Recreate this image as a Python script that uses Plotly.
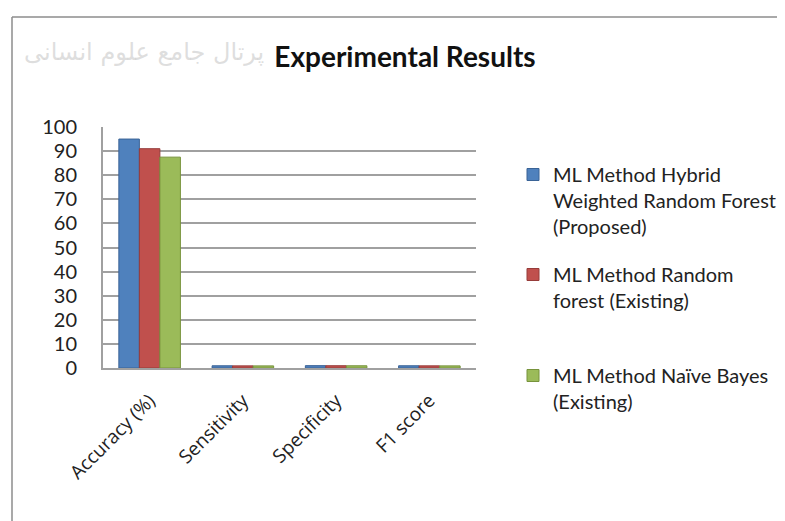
import plotly.graph_objects as go

categories = ["Accuracy (%)", "Sensitivity", "Specificity", "F1 score"]
series_names = [
    "ML Method Hybrid<br>Weighted Random Forest<br>(Proposed)",
    "ML Method Random<br>forest (Existing)",
    "ML Method Naïve Bayes<br>(Existing)",
]
hybrid_wrf = [95, 0.92, 0.97, 0.93]
random_forest = [91, 0.89, 0.94, 0.90]
naive_bayes = [87.5, 0.87, 0.92, 0.88]
colors = ["#4F81BD", "#C0504D", "#9BBB59"]
edge_colors = ["#3A6396", "#963C3A", "#77933C"]
y_ticks = [0, 10, 20, 30, 40, 50, 60, 70, 80, 90, 100]

# the page body adds an 8px margin, so the figure is drawn 8px smaller
OFF = 8
W, H = 785 - OFF, 521 - OFF
FONT = "Lato"

ML, MR, MT, MB = 103 - OFF, 309, 127 - OFF, 521 - 368
PW, PH = W - ML - MR, H - MT - MB


def px_x(p):
    return (p - OFF - ML) / PW


def px_y(p):
    return 1 - (p - OFF - MT) / PH


fig = go.Figure()
legend_ids = ["legend", "legend2", "legend3"]
for name, vals, col, ecol, lg in zip(series_names, [hybrid_wrf, random_forest, naive_bayes],
                                     colors, edge_colors, legend_ids):
    fig.add_trace(go.Bar(
        x=categories, y=vals, name=name,
        marker=dict(color=col, line=dict(color=ecol, width=1)),
        legend=lg,
    ))

legend_common = dict(
    xref="container", yref="container", xanchor="left", yanchor="top",
    font=dict(family=FONT, size=20, color="#222222"),
    bgcolor="rgba(0,0,0,0)", valign="top", itemwidth=30,
)
legend_tops = [155, 255, 356]
LEG_X = 513

fig.update_layout(
    width=W, height=H,
    paper_bgcolor="white", plot_bgcolor="white",
    margin=dict(l=ML, r=MR, t=MT, b=MB),
    barmode="group", bargap=0.34, bargroupgap=0,
    title=dict(text="<b>Experimental Results</b>", x=(405 - OFF) / W, xanchor="center",
               y=1 - (57 - OFF) / H, yanchor="middle",
               font=dict(family=FONT, size=28, color="#111111")),
    showlegend=True,
    legend=dict(x=(LEG_X - OFF) / W, y=1 - (legend_tops[0] - OFF) / H, **legend_common),
    legend2=dict(x=(LEG_X - OFF) / W, y=1 - (legend_tops[1] - OFF) / H, **legend_common),
    legend3=dict(x=(LEG_X - OFF) / W, y=1 - (legend_tops[2] - OFF) / H, **legend_common),
    xaxis=dict(
        tickangle=-45, tickfont=dict(family="Open Sans", size=19, color="#222222"),
        showline=True, linecolor="#A0A0A0", linewidth=2, showgrid=False,
        ticks="", ticklabelstandoff=12,
    ),
    yaxis=dict(
        range=[0, 100], tickvals=y_ticks,
        tickfont=dict(family=FONT, size=20, color="#222222"),
        showgrid=True, gridcolor="#A0A0A0", gridwidth=2,
        showline=True, linecolor="#A0A0A0", linewidth=2,
        zeroline=False, ticks="", ticklabelstandoff=20,
    ),
    shapes=[
        dict(type="line", xref="paper", yref="paper",
             x0=px_x(12), x1=px_x(800), y0=px_y(17), y1=px_y(17),
             line=dict(color="#8C8C8C", width=1.5)),
        dict(type="line", xref="paper", yref="paper",
             x0=px_x(12), x1=px_x(12), y0=px_y(17), y1=px_y(540),
             line=dict(color="#8C8C8C", width=1.5)),
    ],
    annotations=[
        dict(text="پرتال جامع علوم انسانی", xref="paper", yref="paper",
             x=px_x(22), y=px_y(52), xanchor="left", yanchor="middle",
             showarrow=False,
             font=dict(family="DejaVu Sans", size=24, color="rgba(200,200,200,0.6)")),
    ],
)

fig.write_html("out.html")
